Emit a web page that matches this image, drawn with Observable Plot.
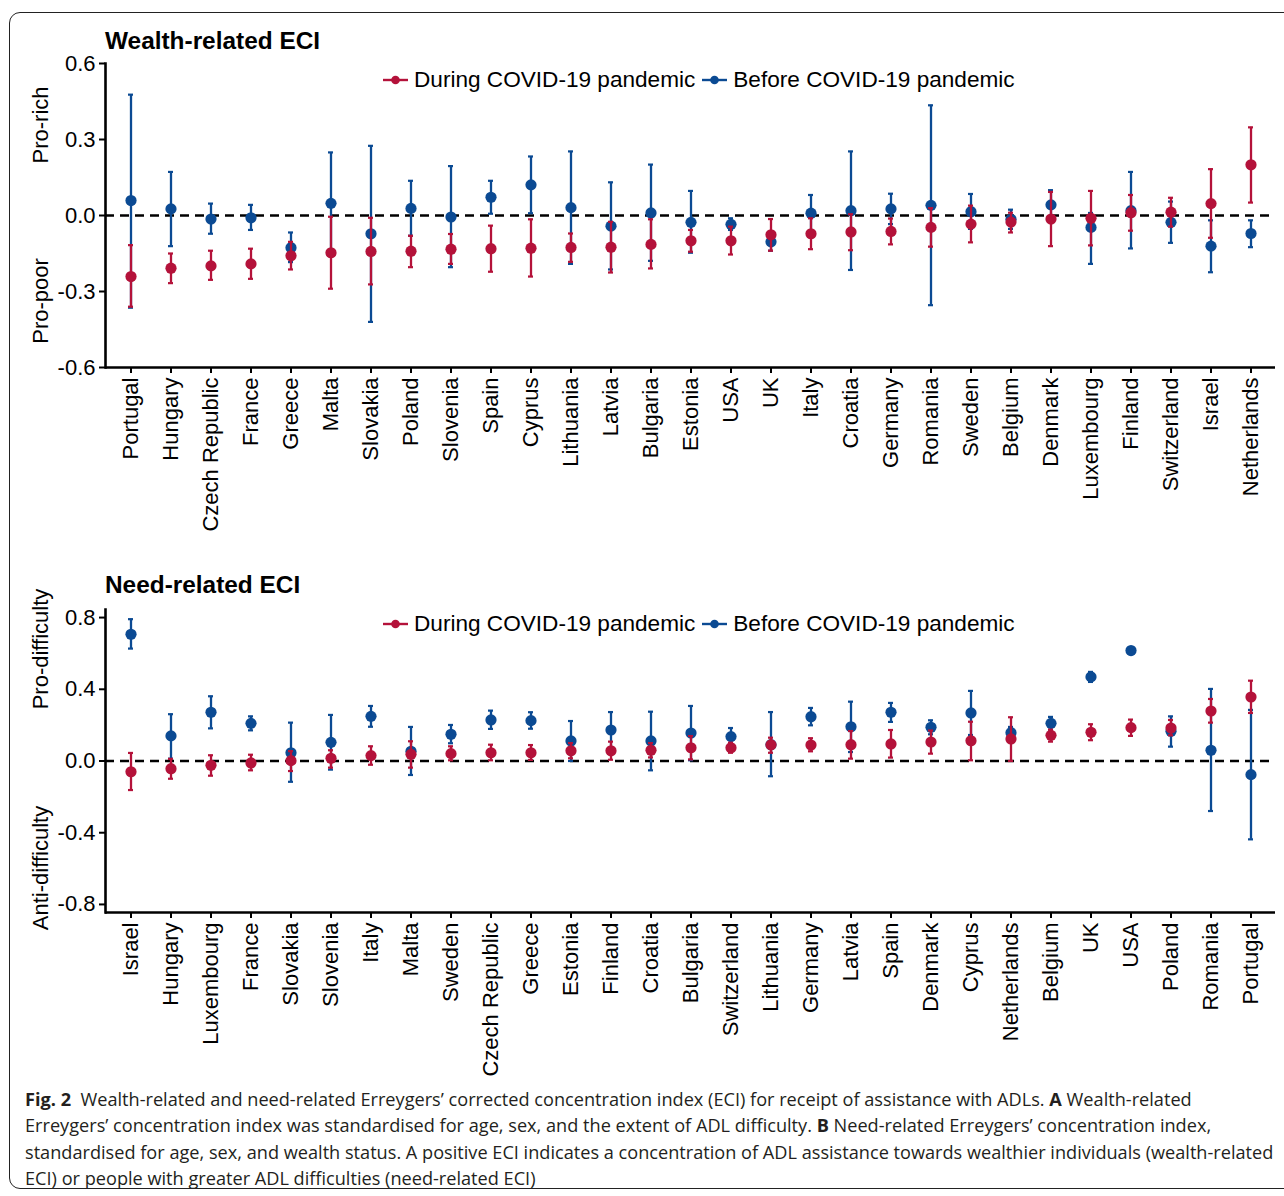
<!DOCTYPE html>
<html>
<head>
<meta charset="utf-8">
<script src="https://cdn.jsdelivr.net/npm/d3@7"></script>
<script src="https://cdn.jsdelivr.net/npm/@observablehq/plot@0.6"></script>
<style>
  html, body { margin: 0; padding: 0; background: #fff; }
  #fig { position: relative; width: 1284px; height: 1196px; overflow: hidden; font-family: 'Liberation Sans', Arial, sans-serif; color: #000; }
  #frame { position: absolute; left: 9px; top: 12px; width: 1300px; height: 1177px; border: 1.5px solid #222; border-radius: 11px; box-sizing: border-box; }
  .panel { position: absolute; left: 0; }
  .title { position: absolute; left: 105px; font-weight: bold; font-size: 24.4px; line-height: 1; white-space: nowrap; }
  .legend { position: absolute; font-size: 22.6px; line-height: 1; white-space: nowrap; display: flex; align-items: center; }
  .legend .item { display: inline-flex; align-items: center; margin-right: 7px; }
  .legend svg { margin-right: 6px; }
  .ylab { position: absolute; font-size: 22px; white-space: nowrap; transform: translate(-50%, -50%) rotate(-90deg); line-height: 1; }
  #caption { position: absolute; left: 25px; top: 1086px; font-family: 'Open Sans', sans-serif; font-size: 18px; line-height: 26.4px; color: #231f20; white-space: nowrap; transform-origin: 0 0; }
  #caption b { font-weight: 700; }
</style>
</head>
<body>
<div id="fig">
  <div id="frame"></div>
</div>
<script>
// ---------- data ----------
const redColor = "#B4123A";
const blueColor = "#0B4A93";

const wealthCountries = ["Portugal","Hungary","Czech Republic","France","Greece","Malta","Slovakia","Poland","Slovenia","Spain","Cyprus","Lithuania","Latvia","Bulgaria","Estonia","USA","UK","Italy","Croatia","Germany","Romania","Sweden","Belgium","Denmark","Luxembourg","Finland","Switzerland","Israel","Netherlands"];
const wealthDuring   = [-0.241,-0.208,-0.199,-0.191,-0.159,-0.147,-0.142,-0.141,-0.133,-0.131,-0.129,-0.126,-0.125,-0.114,-0.100,-0.100,-0.076,-0.072,-0.065,-0.063,-0.047,-0.034,-0.026,-0.014,-0.011,0.011,0.013,0.047,0.200];
const wealthDuringLo = [-0.360,-0.267,-0.254,-0.250,-0.213,-0.289,-0.272,-0.204,-0.191,-0.222,-0.241,-0.183,-0.225,-0.209,-0.143,-0.154,-0.139,-0.133,-0.137,-0.114,-0.123,-0.106,-0.067,-0.121,-0.118,-0.060,-0.044,-0.088,0.051];
const wealthDuringHi = [-0.117,-0.150,-0.139,-0.131,-0.104,-0.005,-0.009,-0.080,-0.073,-0.040,-0.015,-0.071,-0.025,-0.015,-0.057,-0.044,-0.014,-0.011,0.005,-0.012,0.029,0.039,0.011,0.093,0.097,0.081,0.070,0.183,0.348];
const wealthBefore   = [0.059,0.026,-0.014,-0.009,-0.127,0.048,-0.072,0.028,-0.006,0.072,0.121,0.031,-0.042,0.010,-0.027,-0.035,-0.104,0.009,0.019,0.026,0.040,0.015,-0.015,0.042,-0.047,0.019,-0.027,-0.121,-0.071];
const wealthBeforeLo = [-0.364,-0.121,-0.072,-0.057,-0.184,-0.150,-0.420,-0.080,-0.204,0.007,0.009,-0.191,-0.213,-0.179,-0.147,-0.057,-0.139,-0.060,-0.215,-0.034,-0.354,-0.053,-0.053,-0.020,-0.191,-0.130,-0.108,-0.224,-0.125];
const wealthBeforeHi = [0.477,0.172,0.047,0.042,-0.067,0.249,0.275,0.137,0.195,0.137,0.233,0.253,0.131,0.201,0.097,-0.011,-0.077,0.081,0.253,0.086,0.435,0.085,0.023,0.100,0.010,0.172,0.055,-0.019,-0.019];
const wealthTicks = [-0.6,-0.3,0,0.3,0.6];

const needCountries = ["Israel","Hungary","Luxembourg","France","Slovakia","Slovenia","Italy","Malta","Sweden","Czech Republic","Greece","Estonia","Finland","Croatia","Bulgaria","Switzerland","Lithuania","Germany","Latvia","Spain","Denmark","Cyprus","Netherlands","Belgium","UK","USA","Poland","Romania","Portugal"];
const needDuring   = [-0.060,-0.043,-0.024,-0.011,0.002,0.015,0.030,0.037,0.041,0.046,0.046,0.057,0.057,0.060,0.074,0.074,0.090,0.089,0.091,0.095,0.106,0.113,0.123,0.143,0.160,0.186,0.184,0.279,0.357];
const needDuringLo = [-0.162,-0.099,-0.082,-0.052,-0.056,-0.037,-0.021,-0.037,0.004,0.004,0.006,0.015,0.007,0.020,0.009,0.046,0.046,0.054,0.013,0.019,0.041,0.004,0.000,0.108,0.116,0.140,0.143,0.214,0.268];
const needDuringHi = [0.045,0.012,0.032,0.035,0.055,0.060,0.082,0.110,0.082,0.091,0.089,0.100,0.108,0.100,0.139,0.102,0.130,0.127,0.167,0.173,0.170,0.219,0.244,0.175,0.205,0.231,0.229,0.346,0.448];
const needBefore   = [0.707,0.140,0.272,0.210,0.046,0.104,0.249,0.054,0.149,0.229,0.225,0.112,0.173,0.112,0.156,0.136,0.091,0.247,0.191,0.272,0.188,0.268,0.158,0.210,0.469,0.616,0.166,0.060,-0.076];
const needBeforeLo = [0.627,0.013,0.182,0.171,-0.116,-0.048,0.191,-0.078,0.099,0.179,0.180,0.000,0.070,-0.052,0.004,0.088,-0.085,0.199,0.050,0.218,0.149,0.145,0.125,0.175,0.441,0.607,0.080,-0.279,-0.437];
const needBeforeHi = [0.791,0.261,0.361,0.249,0.214,0.257,0.307,0.190,0.201,0.281,0.272,0.223,0.273,0.275,0.307,0.184,0.273,0.296,0.331,0.324,0.227,0.391,0.190,0.246,0.497,0.625,0.249,0.402,0.285];
const needTicks = [-0.8,-0.4,0,0.4,0.8];

const legendLabels = ["During COVID-19 pandemic", "Before COVID-19 pandemic"];

// ---------- drawing ----------
const fig = document.getElementById("fig");
const fontFam = "'Liberation Sans', Arial, sans-serif";

function rows(countries, v, lo, hi) {
  return countries.map((c, i) => ({country: c, v: v[i], lo: lo[i], hi: hi[i]}));
}

function makePanel({countries, during, dLo, dHi, before, bLo, bHi, domain, ticks, marginTop}) {
  const red = rows(countries, during, dLo, dHi);
  const blue = rows(countries, before, bLo, bHi);
  const errMarks = (data, color) => [
    Plot.ruleX(data, {x: "country", y1: "lo", y2: "hi", stroke: color, strokeWidth: 2.3}),
    Plot.tickY(data, {x: "country", y: "lo", stroke: color, strokeWidth: 2.2}),
    Plot.tickY(data, {x: "country", y: "hi", stroke: color, strokeWidth: 2.2}),
    Plot.dot(data, {x: "country", y: "v", r: 5.6, fill: color, stroke: "none"})
  ];
  return Plot.plot({
    width: 1284,
    height: 545,
    marginTop: marginTop,
    marginBottom: 178,
    marginLeft: 105,
    marginRight: 9,
    style: {fontFamily: fontFam, fontSize: "22px", color: "#000", background: "transparent", overflow: "visible"},
    x: {type: "band", domain: countries, paddingInner: 0.88, paddingOuter: 0.56, align: 0.5, label: null, axis: null},
    y: {domain: domain, label: null, axis: null},
    marks: [
      Plot.ruleY([0], {stroke: "#000", strokeWidth: 2.6, strokeDasharray: "9,6"}),
      ...errMarks(blue, blueColor),
      ...errMarks(red, redColor),
      Plot.axisX({tickRotate: -90, tickSize: 6, tickPadding: 4, strokeWidth: 2, label: null, fontSize: 22}),
      Plot.axisY({ticks: ticks, tickFormat: d => d.toFixed(1), tickSize: 6, tickPadding: 4, strokeWidth: 2, label: null, fontSize: 22}),
      Plot.ruleY([domain[0]], {stroke: "#000", strokeWidth: 2.6}),
      Plot.frame({anchor: "left", stroke: "#000", strokeWidth: 2.6})
    ]
  });
}

function legendHTML(top) {
  const div = document.createElement("div");
  div.className = "legend";
  div.style.left = "383px";
  div.style.top = (top - 11) + "px";
  const colors = [redColor, blueColor];
  legendLabels.forEach((lab, i) => {
    const item = document.createElement("span");
    item.className = "item";
    item.innerHTML = `<svg width="25" height="12"><line x1="0" y1="6" x2="25" y2="6" stroke="${colors[i]}" stroke-width="2.4"/><circle cx="12.5" cy="6" r="4.3" fill="${colors[i]}"/></svg><span>${lab}</span>`;
    div.appendChild(item);
  });
  return div;
}

function addText(cls, text, left, top) {
  const d = document.createElement("div");
  d.className = cls;
  d.textContent = text;
  d.style.left = left + "px";
  d.style.top = top + "px";
  fig.appendChild(d);
  return d;
}

// Panel A
const p1 = makePanel({countries: wealthCountries, during: wealthDuring, dLo: wealthDuringLo, dHi: wealthDuringHi,
  before: wealthBefore, bLo: wealthBeforeLo, bHi: wealthBeforeHi, domain: [-0.6, 0.6], ticks: wealthTicks, marginTop: 63});
p1.classList.add("panel");
p1.style.top = "0px";
fig.appendChild(p1);

// Panel B
const p2 = makePanel({countries: needCountries, during: needDuring, dLo: needDuringLo, dHi: needDuringHi,
  before: needBefore, bLo: needBeforeLo, bHi: needBeforeHi, domain: [-0.845, 0.845], ticks: needTicks, marginTop: 64});
p2.classList.add("panel");
p2.style.top = "545px";
fig.appendChild(p2);

addText("title", "Wealth-related ECI", 105, 29);
addText("title", "Need-related ECI", 105, 573);
fig.appendChild(legendHTML(80));
fig.appendChild(legendHTML(624));

addText("ylab", "Pro-rich", 41, 125);
addText("ylab", "Pro-poor", 41, 301);
addText("ylab", "Pro-difficulty", 41, 649);
addText("ylab", "Anti-difficulty", 41, 868);

// Caption
const cap = document.createElement("div");
cap.id = "caption";
cap.innerHTML = [
  "<b>Fig. 2</b>&nbsp; Wealth-related and need-related Erreygers’ corrected concentration index (ECI) for receipt of assistance with ADLs. <b>A</b> Wealth-related",
  "Erreygers’ concentration index was standardised for age, sex, and the extent of ADL difficulty. <b>B</b> Need-related Erreygers’ concentration index,",
  "standardised for age, sex, and wealth status. A positive ECI indicates a concentration of ADL assistance towards wealthier individuals (wealth-related",
  "ECI) or people with greater ADL difficulties (need-related ECI)"
].map(s => `<div class="cl">${s}</div>`).join("");
fig.appendChild(cap);
const lines = cap.querySelectorAll(".cl");
const w3 = lines[2].getBoundingClientRect().width;
const sx = 1248 / (lines[2].scrollWidth || w3);
cap.style.transform = `scaleX(${sx})`;
</script>
</body>
</html>
